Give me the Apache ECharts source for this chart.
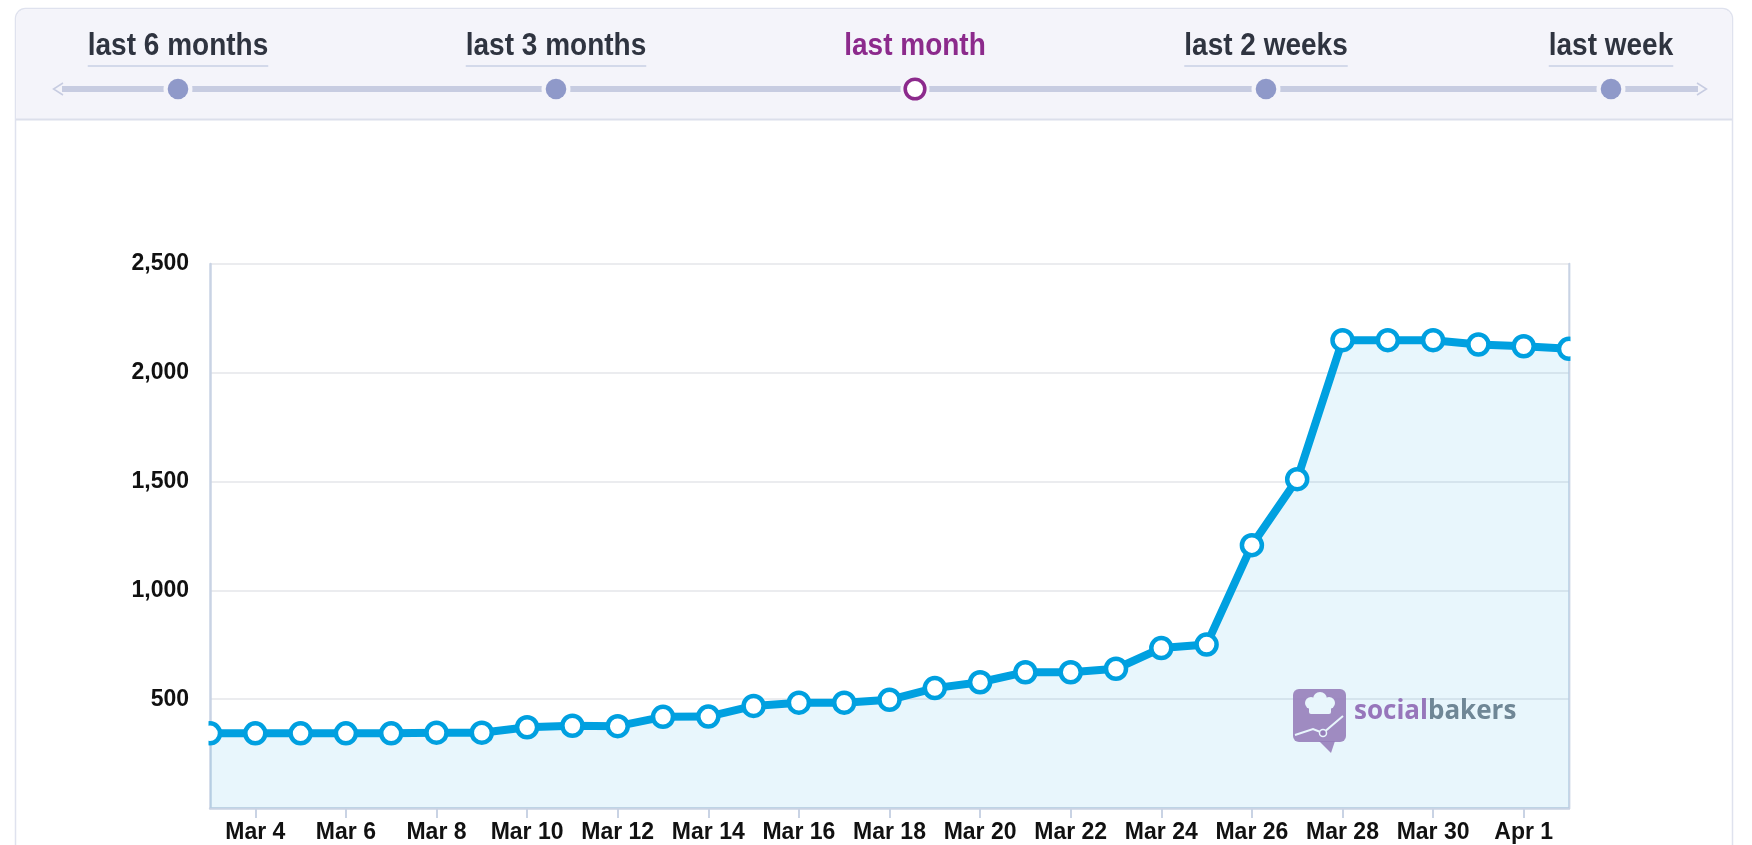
<!DOCTYPE html>
<html>
<head>
<meta charset="utf-8">
<title>Fans growth – last month</title>
<script src="https://cdn.jsdelivr.net/npm/echarts@6/dist/echarts.min.js"></script>
<style>
  html, body { margin: 0; padding: 0; background: #ffffff; overflow: hidden; }
  #chart { width: 1752px; height: 845px; }
</style>
</head>
<body>
<div id="chart"></div>
<script>
// ---- data ----
const days = [
  'Mar 3', 'Mar 4', 'Mar 5', 'Mar 6', 'Mar 7', 'Mar 8', 'Mar 9', 'Mar 10',
  'Mar 11', 'Mar 12', 'Mar 13', 'Mar 14', 'Mar 15', 'Mar 16', 'Mar 17', 'Mar 18',
  'Mar 19', 'Mar 20', 'Mar 21', 'Mar 22', 'Mar 23', 'Mar 24', 'Mar 25', 'Mar 26',
  'Mar 27', 'Mar 28', 'Mar 29', 'Mar 30', 'Mar 31', 'Apr 1', 'Apr 2'
];
const fans = [
  343, 343, 343, 343, 343, 346, 346, 371,
  378, 376, 419, 420, 469, 484, 484, 497,
  551, 578, 624, 624, 640, 735, 751, 1208,
  1511, 2150, 2150, 2150, 2130, 2122, 2110
];
const yMin = 0;
const yMax = 2500;
const yStep = 500;

const periods = ['last 6 months', 'last 3 months', 'last month', 'last 2 weeks', 'last week'];
const activePeriod = 'last month';

// ---- layout & style ----
const FONT = '"Liberation Sans", Arial, Helvetica, sans-serif';
const BLUE = '#00a0e0';
const AXIS = '#c9d3e4';
const HEADER_BG = '#f4f4fa';
const DOT = '#8f99c9';
const PURPLE = '#8c2a8c';
const LABEL = '#2f3440';

const periodX = [178, 556, 915, 1266, 1611];
const lineY = 89;

const measure = (() => {
  const ctx = document.createElement('canvas').getContext('2d');
  return (text, font) => { ctx.font = font; return ctx.measureText(text).width; };
})();

const headerFont = 'bold 28px ' + FONT;
const header = [
  { type: 'rect', z: -2, shape: { x: 15.5, y: 8.5, width: 1717, height: 900, r: [10, 10, 0, 0] },
    style: { fill: '#ffffff', stroke: '#dfe2ee', lineWidth: 1.5 } },
  { type: 'rect', z: -1, shape: { x: 16.25, y: 9.25, width: 1715.5, height: 110, r: [9, 9, 0, 0] },
    style: { fill: HEADER_BG } },
  { type: 'line', z: -1, shape: { x1: 16, y1: 119.5, x2: 1732, y2: 119.5 },
    style: { stroke: '#dcdfeb', lineWidth: 2 } },
  { type: 'line', z: -1, shape: { x1: 62, y1: lineY, x2: 1698, y2: lineY },
    style: { stroke: '#c7cce1', lineWidth: 6 } },
  { type: 'polyline', z: -1, shape: { points: [[63, lineY - 6], [53.5, lineY], [63, lineY + 6]] },
    style: { stroke: '#c7cce1', lineWidth: 1.5, fill: null } },
  { type: 'polyline', z: -1, shape: { points: [[1697, lineY - 6], [1706.5, lineY], [1697, lineY + 6]] },
    style: { stroke: '#c7cce1', lineWidth: 1.5, fill: null } }
];

periods.forEach((name, i) => {
  const cx = periodX[i];
  const active = name === activePeriod;
  header.push({ type: 'circle', z: -1, shape: { cx: cx, cy: lineY, r: 14.5 }, style: { fill: HEADER_BG } });
  if (active) {
    header.push({ type: 'circle', z: -1, shape: { cx: cx, cy: lineY, r: 9.8 },
      style: { fill: '#ffffff', stroke: PURPLE, lineWidth: 3.6 } });
  } else {
    header.push({ type: 'circle', z: -1, shape: { cx: cx, cy: lineY, r: 10.3 }, style: { fill: DOT } });
  }
  header.push({
    type: 'text', z: -1, x: cx, y: 46.6, scaleY: 1.1,
    style: { text: name, font: headerFont, fill: active ? PURPLE : LABEL, align: 'center', verticalAlign: 'middle' }
  });
  if (!active) {
    const w = measure(name, headerFont);
    header.push({ type: 'line', z: -1, shape: { x1: cx - w / 2, y1: 66, x2: cx + w / 2, y2: 66 },
      style: { stroke: '#d3d9ea', lineWidth: 2 } });
  }
});

// socialbakers watermark inside the plot area
const LOGO = '#a47ab6';
const watermark = [
  { type: 'rect', z: 3, shape: { x: 1293, y: 689, width: 53, height: 53, r: 6 }, style: { fill: LOGO, opacity: 0.88 } },
  { type: 'polygon', z: 3, shape: { points: [[1319, 741], [1335, 741], [1331, 753]] }, style: { fill: LOGO, opacity: 0.88 } },
  { type: 'circle', z: 3, shape: { cx: 1311, cy: 703, r: 6 }, style: { fill: '#ffffff' } },
  { type: 'circle', z: 3, shape: { cx: 1320, cy: 699, r: 7 }, style: { fill: '#ffffff' } },
  { type: 'circle', z: 3, shape: { cx: 1329, cy: 703, r: 6 }, style: { fill: '#ffffff' } },
  { type: 'rect', z: 3, shape: { x: 1309, y: 703, width: 22, height: 11, r: 2 }, style: { fill: '#ffffff' } },
  { type: 'polyline', z: 3, shape: { points: [[1295, 735], [1313, 729], [1323, 733], [1343, 716]] },
    style: { stroke: '#ffffff', lineWidth: 2, fill: null } },
  { type: 'circle', z: 3, shape: { cx: 1323, cy: 733, r: 3.5 }, style: { fill: LOGO, stroke: '#ffffff', lineWidth: 1.5 } },
  { type: 'text', z: 3, x: 1354, y: 712,
    style: {
      text: '{a|social}{b|bakers}',
      verticalAlign: 'middle',
      rich: {
        a: { fontFamily: '"Open Sans", sans-serif', fontWeight: 'bold', fontSize: 26, fill: '#a673b8' },
        b: { fontFamily: '"Open Sans", sans-serif', fontWeight: 'bold', fontSize: 26, fill: '#7b858f' }
      }
    } }
];

// white strips that trim the end markers at the plot edges
const trims = [
  { type: 'rect', z: 5, shape: { x: 192, y: 250, width: 16.5, height: 560 }, style: { fill: '#ffffff' } },
  { type: 'rect', z: 5, shape: { x: 1570.5, y: 250, width: 22, height: 560 }, style: { fill: '#ffffff' } }
];

const everyOther = (index) => index % 2 === 1;

const chart = echarts.init(document.getElementById('chart'), null, { renderer: 'canvas' });
chart.setOption({
  animation: false,
  backgroundColor: '#ffffff',
  graphic: { elements: header.concat(watermark, trims) },
  grid: { left: 210, top: 264, width: 1359, height: 544, containLabel: false, outerBoundsMode: 'none' },
  xAxis: {
    type: 'category',
    data: days,
    boundaryGap: false,
    axisLine: { show: true, lineStyle: { color: AXIS, width: 2.5 } },
    axisTick: { show: true, interval: everyOther, length: 10, lineStyle: { color: AXIS, width: 2 } },
    axisLabel: {
      interval: everyOther,
      margin: 13,
      color: '#111111',
      fontFamily: FONT,
      fontWeight: 'bold',
      fontSize: 23
    },
    splitLine: { show: false }
  },
  yAxis: [
    {
      type: 'value',
      min: yMin,
      max: yMax,
      interval: yStep,
      axisLine: { show: true, lineStyle: { color: AXIS, width: 2.5 } },
      axisTick: { show: false },
      axisLabel: {
        margin: 21,
        color: '#111111',
        fontFamily: FONT,
        fontWeight: 'bold',
        fontSize: 23,
        padding: [0, 0, 5, 0],
        formatter: (v) => (v === 0 ? '' : v.toLocaleString('en-US'))
      },
      splitLine: { show: true, lineStyle: { color: '#e5e6ea', width: 1.5 } }
    },
    {
      type: 'value',
      position: 'right',
      min: yMin,
      max: yMax,
      interval: yStep,
      axisLine: { show: true, lineStyle: { color: AXIS, width: 2.5 } },
      axisTick: { show: false },
      axisLabel: { show: false },
      splitLine: { show: false }
    }
  ],
  series: [{
    type: 'line',
    data: fans,
    yAxisIndex: 0,
    showAllSymbol: true,
    symbol: 'circle',
    symbolSize: 20,
    lineStyle: { color: BLUE, width: 8 },
    itemStyle: { color: '#ffffff', borderColor: BLUE, borderWidth: 4.5 },
    areaStyle: { color: 'rgba(0, 160, 222, 0.13)' },
    emphasis: { disabled: true }
  }]
});
</script>
</body>
</html>
